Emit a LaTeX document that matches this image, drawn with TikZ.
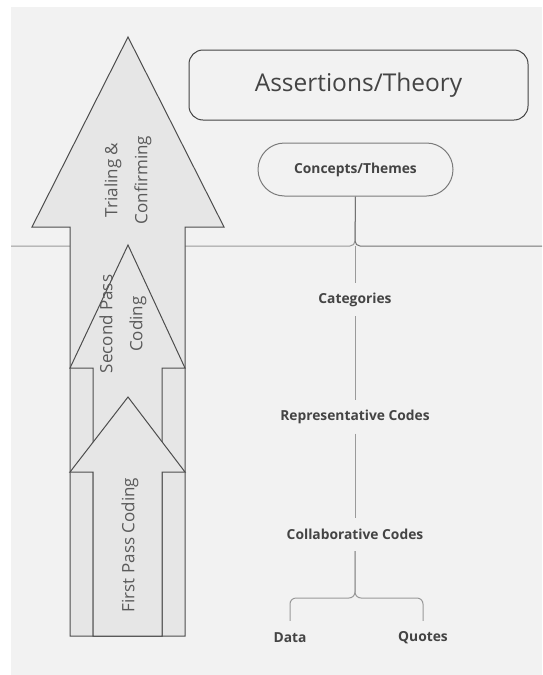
\documentclass[tikz,border=0pt]{standalone}
\usepackage{fontspec}
\setmainfont{Open Sans}
\usepackage{xcolor}
\usetikzlibrary{shapes.misc,positioning}

\definecolor{pagegray}{HTML}{F2F2F2}
\definecolor{arrowfill}{HTML}{E6E6E6}
\definecolor{arrowline}{HTML}{4D4D4D}
\definecolor{labelgray}{HTML}{5A5A5A}
\definecolor{textdark}{HTML}{444444}
\definecolor{linegray}{HTML}{9A9A9A}

\begin{document}
\begin{tikzpicture}[
    x=1pt, y=-1pt,
    node distance=84pt,
    stage/.style={draw=arrowline, fill=arrowfill, line width=1pt},
    stagetext/.style={rotate=90, text=labelgray, align=center, font=\fontsize{17}{30}\selectfont},
    level/.style={font=\bfseries\fontsize{13.8}{16}\selectfont, text=textdark, inner sep=0pt, minimum height=33pt},
    link/.style={draw=linegray, line width=1pt}
]
    \useasboundingbox (0,0) rectangle (542,675);
    \fill[white] (0,0) rectangle (542,675);
    \fill[pagegray] (11,7) rectangle (542,675);

    % top boxes
    \node[draw=textdark, line width=1pt, rounded corners=14pt, minimum width=339pt, minimum height=70pt,
          text=textdark, font=\fontsize{24.5}{28}\selectfont] (theory) at (358.5,85) {Assertions/Theory};
    \node[level, rounded rectangle, draw=linegray!80!black, line width=1pt, minimum width=195pt,
          minimum height=53pt] (concepts) at (355.5,169.5) {Concepts/Themes};

    % divider
    \coordinate (divl) at (11,246);
    \coordinate (divr) at (542,246);
    \coordinate (join) at (355,246);
    \draw[link, rounded corners=5pt] (divl) -- (join) -- (concepts.south);
    \draw[link, draw=linegray!75!black, rounded corners=5pt] (divr) -- (join) -- (concepts.south);

    % stacked arrows
    \draw[stage] (70,636) -- (70,227) -- (32,227) -- (128,37) -- (224,227) -- (185,227) -- (185,636) -- cycle;
    \draw[stage] (93,636) -- (93,368) -- (70,368) -- (128,245) -- (185,368) -- (162,368) -- (162,636) -- cycle;
    \draw[stage] (93,636) -- (93,472) -- (70,472) -- (128,397) -- (185,472) -- (162,472) -- (162,636) -- cycle;

    \node[stagetext] (trial) at (128,180) {Trialing \&\\Confirming};
    \node[stagetext] (second) at (123,324) {Second Pass\\Coding};
    \node[stagetext] (first) at (130,545) {First Pass Coding};

    % hierarchy
    \node[level] (cat) at (355,299.5) {Categories};
    \node[level, below=of cat] (rep) {Representative Codes};
    \node[level, below=of rep] (collab) {Collaborative Codes};
    \node[level] (data) at (290,637.5) {Data};
    \node[level] (quotes) at (423,637.5) {Quotes};
    \coordinate (fork) at (355,598);

    \draw[link] (join) -- (cat.north);
    \draw[link] (cat) -- (rep);
    \draw[link] (rep) -- (collab);
    \draw[link, rounded corners=6pt] (data.north) |- (fork) -- (collab.south);
    \draw[link, rounded corners=6pt] (quotes.north) |- (fork) -- (collab.south);
\end{tikzpicture}
\end{document}
